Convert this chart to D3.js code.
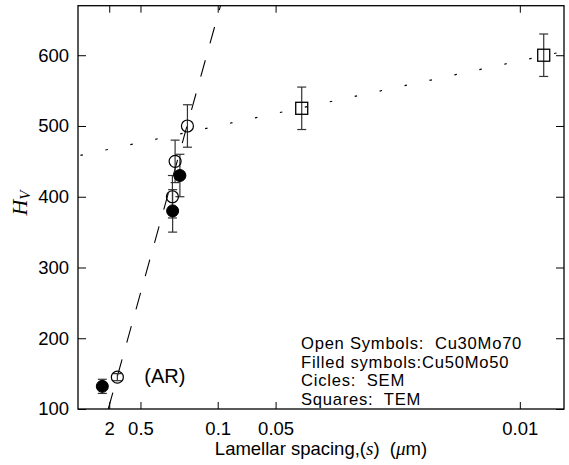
<!DOCTYPE html>
<html><head><meta charset="utf-8">
<script src="https://cdn.jsdelivr.net/npm/d3@7"></script>
<style>body{margin:0;background:#fff}</style>
</head><body><svg id="c" width="569" height="465"></svg>
<script>
// Lamellar spacing s (µm) and Vickers hardness
const openS = [1.26, 0.219, 0.207, 0.163];
const openH = [145, 400, 450, 500];
const openErr = [5, 30, 30, 30];
const filledS = [3.3, 0.218, 0.188];
const filledH = [132, 380, 430];
const filledErr = [10, 30, 30];
const squareS = [0.039, 0.009];
const squareH = [525, 600];
const squareErr = [30, 30];
const xTickS = [2, 0.5, 0.1, 0.05, 0.01];
const xTickLabels = ["2", "0.5", "0.1", "0.05", "0.01"];
const yTicks = [100, 200, 300, 400, 500, 600];
const dashedFit = [-53.7, 224.4];  // H = a + b * s^-1/2
const dottedFit = [457.7, 13.43];
const legendLines = ["Open Symbols:\u00a0 Cu30Mo70", "Filled symbols:Cu50Mo50", "Cicles:\u00a0 SEM", "Squares:\u00a0 TEM"];

const t = s => Math.pow(s, -0.5);
const L = 78, R = 564, T = 5.7, B = 409;
const x = d3.scaleLinear().domain([0, 11]).range([L, R]);
const y = d3.scaleLinear().domain([100, 670]).range([B, T]);
const svg = d3.select("#c");
const FONT = "'Liberation Sans', Arial, sans-serif";

// axes
function styleAxis(g) {
  g.select(".domain").remove();
  g.selectAll("line").attr("stroke", "#000").attr("stroke-width", 1);
  g.selectAll("text").attr("font-family", FONT).attr("font-size", 18.5).attr("fill", "#000");
}
const xv = xTickS.map(t);
svg.append("g").attr("transform", `translate(0,${B})`)
  .call(d3.axisBottom(x).tickValues(xv).tickFormat((d, i) => xTickLabels[i]).tickSizeInner(-7).tickSizeOuter(0).tickPadding(13))
  .call(styleAxis);
svg.append("g").attr("transform", `translate(0,${T})`)
  .call(d3.axisTop(x).tickValues(xv).tickFormat("").tickSizeInner(-7).tickSizeOuter(0))
  .call(styleAxis);
svg.append("g").attr("transform", `translate(${L},0)`)
  .call(d3.axisLeft(y).tickValues(yTicks).tickFormat(d3.format("d")).tickSizeInner(-8).tickSizeOuter(0).tickPadding(9))
  .call(styleAxis);
svg.append("g").attr("transform", `translate(${R},0)`)
  .call(d3.axisRight(y).tickValues(yTicks).tickFormat("").tickSizeInner(-8).tickSizeOuter(0))
  .call(styleAxis);

// fit lines
const dx0 = (100 - dashedFit[0]) / dashedFit[1], dx1 = (670 - dashedFit[0]) / dashedFit[1];
svg.append("line").attr("x1", x(dx0)).attr("y1", y(100)).attr("x2", x(dx1)).attr("y2", y(670))
  .attr("stroke", "#000").attr("stroke-width", 1.1).attr("stroke-dasharray", "17,17.5");
svg.append("line").attr("x1", x(0)).attr("y1", y(dottedFit[0])).attr("x2", x(11)).attr("y2", y(dottedFit[0] + dottedFit[1] * 11))
  .attr("stroke", "#000").attr("stroke-width", 1.2).attr("stroke-dasharray", "2.5,23").attr("stroke-dashoffset", -2.5);

// error bars
function errBars(S, H, E) {
  const g = svg.append("g").attr("stroke", "#333").attr("stroke-width", 1.2);
  S.forEach((s, i) => {
    const cx = x(t(s));
    g.append("line").attr("x1", cx).attr("x2", cx).attr("y1", y(H[i] - E[i])).attr("y2", y(H[i] + E[i]));
    [H[i] - E[i], H[i] + E[i]].forEach(v => g.append("line").attr("x1", cx - 4.5).attr("x2", cx + 4.5).attr("y1", y(v)).attr("y2", y(v)));
  });
}
errBars(openS, openH, openErr);
errBars(filledS, filledH, filledErr);
errBars(squareS, squareH, squareErr);

// markers
svg.append("g").selectAll("circle").data(openS).join("circle")
  .attr("cx", d => x(t(d))).attr("cy", (d, i) => y(openH[i])).attr("r", 6)
  .attr("fill", "none").attr("stroke", "#000").attr("stroke-width", 1.2);
svg.append("g").selectAll("circle").data(filledS).join("circle")
  .attr("cx", d => x(t(d))).attr("cy", (d, i) => y(filledH[i])).attr("r", 6)
  .attr("fill", "#000").attr("stroke", "#000").attr("stroke-width", 1);
svg.append("g").selectAll("rect").data(squareS).join("rect")
  .attr("x", d => x(t(d)) - 6).attr("y", (d, i) => y(squareH[i]) - 6).attr("width", 12).attr("height", 12)
  .attr("fill", "none").attr("stroke", "#000").attr("stroke-width", 1.3);

// frame
svg.append("rect").attr("x", L).attr("y", T).attr("width", R - L).attr("height", B - T)
  .attr("fill", "none").attr("stroke", "#000").attr("stroke-width", 1.3);

// annotations
svg.append("text").attr("x", x(t(openS[0])) + 27).attr("y", 383).attr("font-family", FONT).attr("font-size", 20).text("(AR)");
svg.append("g").selectAll("text").data(legendLines).join("text")
  .attr("x", 301).attr("y", (d, i) => 349 + i * 18.7)
  .attr("font-family", FONT).attr("font-size", 16.6).attr("letter-spacing", 0.75).text(d => d);

// axis labels
const xl = svg.append("text").attr("x", 321).attr("y", 455).attr("text-anchor", "middle")
  .attr("font-family", FONT).attr("font-size", 18.5);
xl.append("tspan").text("Lamellar spacing,(");
xl.append("tspan").attr("font-family", "'Liberation Serif', 'DejaVu Serif', serif").attr("font-style", "italic").attr("font-size", 19).text("s");
xl.append("tspan").text(")\u00a0 (");
xl.append("tspan").attr("font-family", "'Liberation Serif', 'DejaVu Serif', serif").attr("font-style", "italic").attr("font-size", 19).text("\u03bc");
xl.append("tspan").text("m)");

const yl = svg.append("text").attr("transform", "translate(27,203) rotate(-90)").attr("text-anchor", "middle")
  .attr("font-family", "'Liberation Serif', 'DejaVu Serif', serif").attr("font-style", "italic");
yl.append("tspan").attr("font-size", 22).text("H");
yl.append("tspan").attr("font-size", 15).attr("dy", 3).text("V");
</script></body></html>
